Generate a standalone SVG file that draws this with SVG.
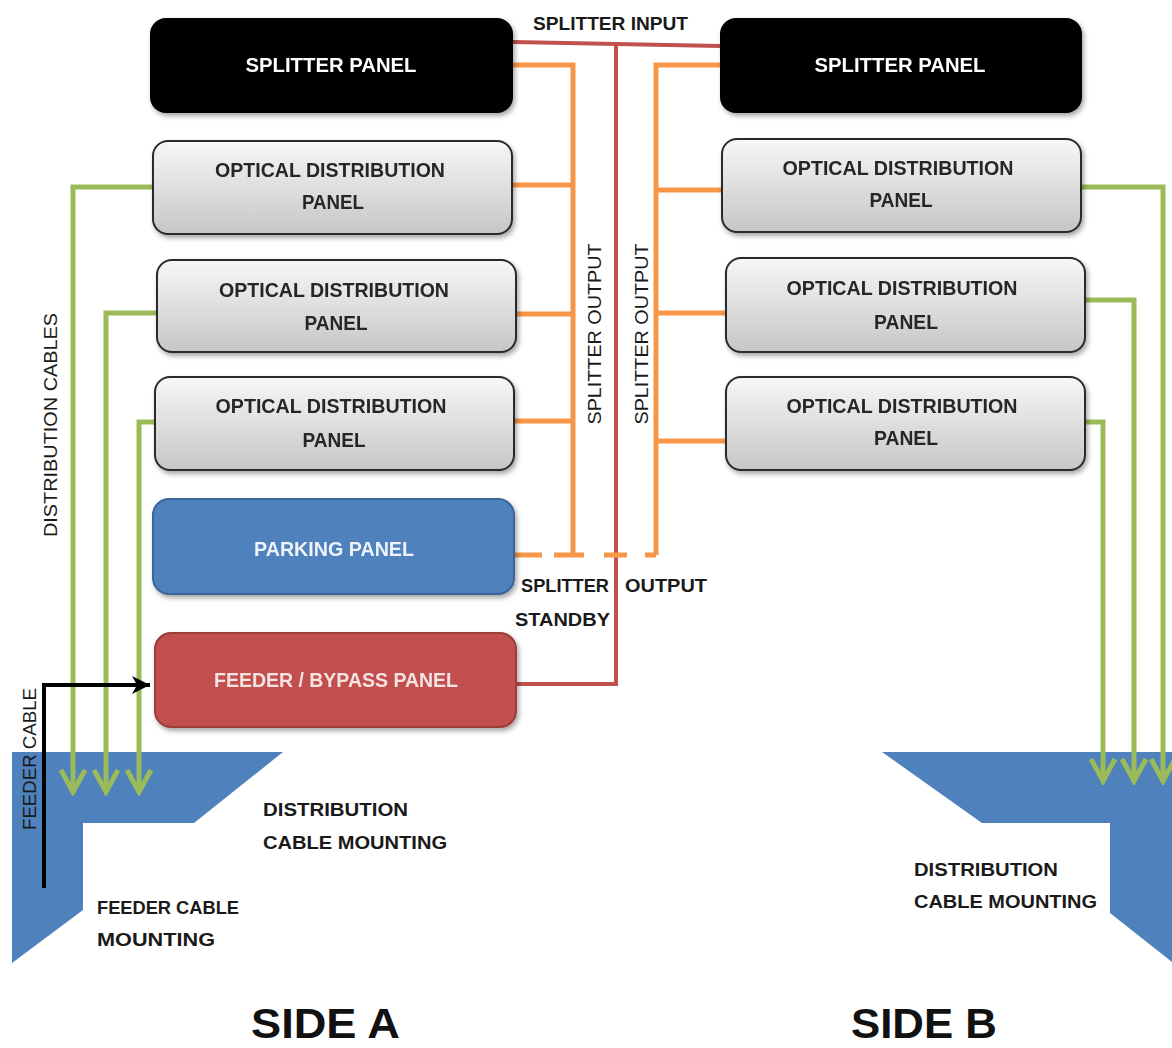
<svg xmlns="http://www.w3.org/2000/svg" width="1172" height="1048" viewBox="0 0 1172 1048">
<defs>
  <linearGradient id="gray" x1="0" y1="0" x2="0" y2="1">
    <stop offset="0" stop-color="#f7f7f7"/>
    <stop offset="1" stop-color="#c6c6c6"/>
  </linearGradient>
  <filter id="sh" x="-10%" y="-10%" width="125%" height="135%">
    <feDropShadow dx="2" dy="3" stdDeviation="2.5" flood-color="#000" flood-opacity="0.35"/>
  </filter>
  <marker id="garrow" markerWidth="30" markerHeight="32" viewBox="-26 -15 30 30" refX="0" refY="0" markerUnits="userSpaceOnUse" orient="auto">
    <path d="M-22,-12 L0,0 L-22,12" fill="none" stroke="#9bbb59" stroke-width="5"/>
  </marker>
  <marker id="barrow" markerWidth="24" markerHeight="24" viewBox="-20 -12 22 24" refX="0" refY="0" markerUnits="userSpaceOnUse" orient="auto">
    <path d="M0,0 L-18,-9 L-13,0 L-18,9 Z" fill="#000"/>
  </marker>
</defs>
<style>
  .lbl{font-family:"Liberation Sans",Arial,sans-serif;font-weight:bold;}
  .thin{font-family:"Liberation Sans",Arial,sans-serif;font-weight:normal;}
  .odp{fill:url(#gray);stroke:#2b2b2b;stroke-width:2;}
  .odpt{fill:#262626;font-size:20px;}
  .red{stroke:#c0504d;stroke-width:4;fill:none;}
  .org{stroke:#f79646;stroke-width:5;fill:none;}
  .grn{stroke:#9bbb59;stroke-width:5;fill:none;}
  .mount{fill:#4f81bd;}
  .dark{fill:#1a1a1a;}
</style>
<rect width="1172" height="1048" fill="#ffffff"/>

<!-- mounting shapes -->
<g id="mount-a">
  <polygon class="mount" points="12,752 283,752 194,823 83,823 83,910 12,963"/>
</g>
<g id="mount-b">
  <polygon class="mount" points="882,752 1172,752 1172,962 1110,913 1110,823 982,823"/>
</g>

<!-- connectors -->
<g id="connectors">
  <!-- splitter input (red) -->
  <path class="red" d="M513,42 L720,46"/>
  <path class="red" d="M616,44 L616,684 L516,684"/>
  <!-- splitter outputs (orange) -->
  <path class="org" d="M513,65 L573,65 L573,555"/>
  <path class="org" d="M512,185 L573,185"/>
  <path class="org" d="M516,314 L573,314"/>
  <path class="org" d="M514,421 L573,421"/>
  <path class="org" d="M720,65 L656,65 L656,555"/>
  <path class="org" d="M722,190 L656,190"/>
  <path class="org" d="M726,313 L656,313"/>
  <path class="org" d="M726,441 L656,441"/>
  <path class="org" d="M512,555 L656,555" stroke-dasharray="30,12 30,20 23,18"/>
  <!-- distribution cables (green) -->
  <path class="grn" d="M153,187 L73,187 L73,792" marker-end="url(#garrow)"/>
  <path class="grn" d="M157,313 L106,313 L106,792" marker-end="url(#garrow)"/>
  <path class="grn" d="M155,422 L139,422 L139,792" marker-end="url(#garrow)"/>
  <path class="grn" d="M1081,187 L1163,187 L1163,781" marker-end="url(#garrow)"/>
  <path class="grn" d="M1085,300 L1134,300 L1134,781" marker-end="url(#garrow)"/>
  <path class="grn" d="M1085,422 L1103,422 L1103,781" marker-end="url(#garrow)"/>
  <!-- feeder cable (black) -->
  <path d="M44,888 L44,685 L150,685" fill="none" stroke="#000" stroke-width="4" marker-end="url(#barrow)"/>
</g>

<!-- nodes -->
<g id="splitter-a" filter="url(#sh)">
  <rect x="150" y="18" width="363" height="95" rx="16" fill="#000"/>
  <text class="lbl" x="331" y="72" font-size="20" fill="#fff" text-anchor="middle" textLength="171" lengthAdjust="spacingAndGlyphs">SPLITTER PANEL</text>
</g>
<g id="splitter-b" filter="url(#sh)">
  <rect x="720" y="18" width="362" height="95" rx="16" fill="#000"/>
  <text class="lbl" x="900" y="72" font-size="20" fill="#fff" text-anchor="middle" textLength="171" lengthAdjust="spacingAndGlyphs">SPLITTER PANEL</text>
</g>

<g id="odp-a1" filter="url(#sh)">
  <rect class="odp" x="153" y="141" width="359" height="93" rx="15"/>
  <text class="lbl odpt" x="330" y="177" text-anchor="middle" textLength="230" lengthAdjust="spacingAndGlyphs">OPTICAL DISTRIBUTION</text>
  <text class="lbl odpt" x="333" y="209" text-anchor="middle" textLength="62" lengthAdjust="spacingAndGlyphs">PANEL</text>
</g>
<g id="odp-a2" filter="url(#sh)">
  <rect class="odp" x="157" y="260" width="359" height="92" rx="15"/>
  <text class="lbl odpt" x="334" y="297" text-anchor="middle" textLength="230" lengthAdjust="spacingAndGlyphs">OPTICAL DISTRIBUTION</text>
  <text class="lbl odpt" x="336" y="330" text-anchor="middle" textLength="63" lengthAdjust="spacingAndGlyphs">PANEL</text>
</g>
<g id="odp-a3" filter="url(#sh)">
  <rect class="odp" x="155" y="377" width="359" height="93" rx="15"/>
  <text class="lbl odpt" x="331" y="413" text-anchor="middle" textLength="231" lengthAdjust="spacingAndGlyphs">OPTICAL DISTRIBUTION</text>
  <text class="lbl odpt" x="334" y="447" text-anchor="middle" textLength="63" lengthAdjust="spacingAndGlyphs">PANEL</text>
</g>
<g id="parking" filter="url(#sh)">
  <rect x="153" y="499" width="361" height="95" rx="16" fill="#4f81bd" stroke="#3a659a" stroke-width="2"/>
  <text class="lbl" x="334" y="556" font-size="20" fill="#eef3fa" text-anchor="middle" textLength="160" lengthAdjust="spacingAndGlyphs">PARKING PANEL</text>
</g>
<g id="feeder" filter="url(#sh)">
  <rect x="155" y="633" width="361" height="94" rx="16" fill="#c0504d" stroke="#9c3e3b" stroke-width="2"/>
  <text class="lbl" x="336" y="687" font-size="20" fill="#f5e3e2" text-anchor="middle" textLength="244" lengthAdjust="spacingAndGlyphs">FEEDER / BYPASS PANEL</text>
</g>

<g id="odp-b1" filter="url(#sh)">
  <rect class="odp" x="722" y="139" width="359" height="93" rx="15"/>
  <text class="lbl odpt" x="898" y="175" text-anchor="middle" textLength="231" lengthAdjust="spacingAndGlyphs">OPTICAL DISTRIBUTION</text>
  <text class="lbl odpt" x="901" y="207" text-anchor="middle" textLength="63" lengthAdjust="spacingAndGlyphs">PANEL</text>
</g>
<g id="odp-b2" filter="url(#sh)">
  <rect class="odp" x="726" y="258" width="359" height="94" rx="15"/>
  <text class="lbl odpt" x="902" y="295" text-anchor="middle" textLength="231" lengthAdjust="spacingAndGlyphs">OPTICAL DISTRIBUTION</text>
  <text class="lbl odpt" x="906" y="329" text-anchor="middle" textLength="64" lengthAdjust="spacingAndGlyphs">PANEL</text>
</g>
<g id="odp-b3" filter="url(#sh)">
  <rect class="odp" x="726" y="377" width="359" height="93" rx="15"/>
  <text class="lbl odpt" x="902" y="413" text-anchor="middle" textLength="231" lengthAdjust="spacingAndGlyphs">OPTICAL DISTRIBUTION</text>
  <text class="lbl odpt" x="906" y="445" text-anchor="middle" textLength="64" lengthAdjust="spacingAndGlyphs">PANEL</text>
</g>

<!-- labels -->
<g id="labels">
  <text class="lbl dark" x="533" y="30" font-size="19" textLength="155" lengthAdjust="spacingAndGlyphs">SPLITTER INPUT</text>
  <text class="thin dark" font-size="19" transform="translate(601,334) rotate(-90)" text-anchor="middle" textLength="181" lengthAdjust="spacingAndGlyphs">SPLITTER OUTPUT</text>
  <text class="thin dark" font-size="19" transform="translate(648,334) rotate(-90)" text-anchor="middle" textLength="181" lengthAdjust="spacingAndGlyphs">SPLITTER OUTPUT</text>
  <text class="lbl dark" x="521" y="592" font-size="19" textLength="88" lengthAdjust="spacingAndGlyphs">SPLITTER</text>
  <text class="lbl dark" x="625" y="592" font-size="19" textLength="82" lengthAdjust="spacingAndGlyphs">OUTPUT</text>
  <text class="lbl dark" x="515" y="626" font-size="19" textLength="95" lengthAdjust="spacingAndGlyphs">STANDBY</text>
  <text class="thin dark" font-size="19" transform="translate(57,425) rotate(-90)" text-anchor="middle" textLength="224" lengthAdjust="spacingAndGlyphs">DISTRIBUTION CABLES</text>
  <text class="thin dark" font-size="19" transform="translate(36,759) rotate(-90)" text-anchor="middle" textLength="142" lengthAdjust="spacingAndGlyphs">FEEDER CABLE</text>
  <text class="lbl dark" x="263" y="816" font-size="19" textLength="145" lengthAdjust="spacingAndGlyphs">DISTRIBUTION</text>
  <text class="lbl dark" x="263" y="849" font-size="19" textLength="184" lengthAdjust="spacingAndGlyphs">CABLE MOUNTING</text>
  <text class="lbl dark" x="97" y="914" font-size="19" textLength="142" lengthAdjust="spacingAndGlyphs">FEEDER CABLE</text>
  <text class="lbl dark" x="97" y="946" font-size="19" textLength="118" lengthAdjust="spacingAndGlyphs">MOUNTING</text>
  <text class="lbl dark" x="914" y="876" font-size="19" textLength="144" lengthAdjust="spacingAndGlyphs">DISTRIBUTION</text>
  <text class="lbl dark" x="914" y="908" font-size="19" textLength="183" lengthAdjust="spacingAndGlyphs">CABLE MOUNTING</text>
  <text class="lbl" x="251" y="1038" font-size="43" fill="#111" textLength="149" lengthAdjust="spacingAndGlyphs">SIDE A</text>
  <text class="lbl" x="851" y="1038" font-size="43" fill="#111" textLength="146" lengthAdjust="spacingAndGlyphs">SIDE B</text>
</g>
</svg>
